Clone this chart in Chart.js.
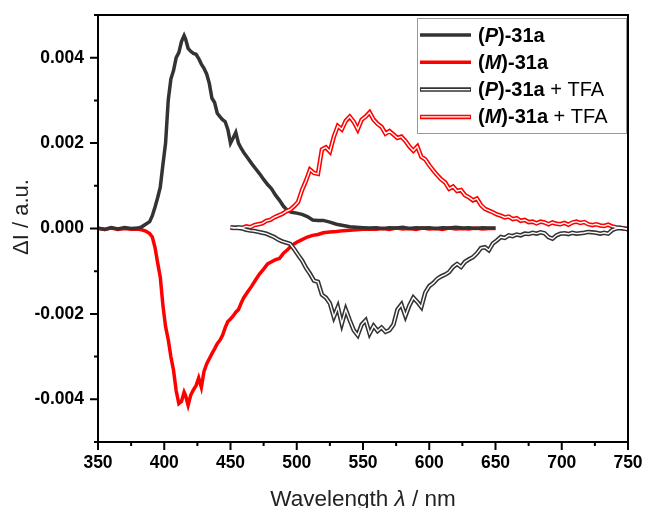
<!DOCTYPE html>
<html>
<head>
<meta charset="utf-8">
<script src="https://cdn.jsdelivr.net/npm/chart.js@4"></script>
<style>
  html, body { margin: 0; padding: 0; background: #fff; }
  #wrap { width: 645px; height: 508px; }
</style>
</head>
<body>
<div id="wrap"><canvas id="cd"></canvas></div>
<script>
// (P)-31a and (M)-31a, sampled on the same wavelengths
const wlPure = [350,355,360,365,370,375,380,383,386,389,391,393,395,397,399,401,403,405,407,409,411,413,415,416,418,420,422,424,426,428,430,432,434,436,438,440,442,444,446,448,450,452,454,456,458,460,463,466,469,472,475,478,481,484,487,490,493,496,500,504,508,512,516,520,525,530,535,540,545,550,555,560,565,570,575,580,585,590,595,600,605,610,615,620,625,630,635,640,645,650];
const pVals = [0.00001,-0.00002,0.00002,-0.00001,0.00002,0.00000,0.00001,0.00004,0.00010,0.00016,0.00030,0.00050,0.00072,0.00097,0.00150,0.00200,0.00300,0.00350,0.00370,0.00400,0.00412,0.00438,0.00452,0.00445,0.00422,0.00415,0.00410,0.00408,0.00398,0.00385,0.00375,0.00362,0.00340,0.00305,0.00295,0.00270,0.00262,0.00255,0.00250,0.00232,0.00200,0.00212,0.00225,0.00200,0.00188,0.00178,0.00165,0.00152,0.00140,0.00128,0.00115,0.00103,0.00093,0.00078,0.00066,0.00052,0.00042,0.00038,0.00036,0.00033,0.00028,0.00020,0.00019,0.00019,0.00015,0.00010,0.00007,0.00004,0.00003,0.00002,0.00001,0.00002,0.00000,0.00002,0.00001,0.00003,0.00000,0.00002,0.00001,0.00002,0.00000,0.00002,0.00001,0.00003,0.00001,0.00002,0.00000,0.00002,0.00001,0.00001];
const mVals = [0.00000,-0.00002,0.00001,-0.00002,0.00000,-0.00002,-0.00001,-0.00003,-0.00006,-0.00012,-0.00020,-0.00044,-0.00080,-0.00114,-0.00180,-0.00230,-0.00260,-0.00300,-0.00332,-0.00380,-0.00410,-0.00405,-0.00383,-0.00390,-0.00414,-0.00390,-0.00378,-0.00368,-0.00350,-0.00372,-0.00335,-0.00317,-0.00305,-0.00293,-0.00282,-0.00270,-0.00262,-0.00250,-0.00232,-0.00218,-0.00212,-0.00205,-0.00196,-0.00190,-0.00175,-0.00162,-0.00148,-0.00135,-0.00120,-0.00106,-0.00095,-0.00083,-0.00078,-0.00073,-0.00070,-0.00058,-0.00050,-0.00040,-0.00032,-0.00026,-0.00020,-0.00016,-0.00014,-0.00010,-0.00008,-0.00007,-0.00005,-0.00004,-0.00003,-0.00002,-0.00001,-0.00002,0.00000,-0.00002,0.00001,-0.00001,0.00000,-0.00002,0.00001,-0.00001,0.00000,-0.00002,0.00001,-0.00001,0.00000,-0.00001,0.00001,-0.00001,0.00000,0.00000];

// + TFA series, 450..750 nm every 3 nm
const wlTfa = [450,453,456,459,462,465,468,471,474,477,480,483,486,489,492,495,498,501,504,507,510,513,516,519,522,525,528,531,534,537,540,543,546,549,552,555,558,561,564,567,570,573,576,579,582,585,588,591,594,597,600,603,606,609,612,615,618,621,624,627,630,633,636,639,642,645,648,651,654,657,660,663,666,669,672,675,678,681,684,687,690,693,696,699,702,705,708,711,714,717,720,723,726,729,732,735,738,741,744,747,750];
const pTfaVals = [0.00003,0.00002,0.00001,0.00000,-0.00003,-0.00005,-0.00006,-0.00008,-0.00010,-0.00012,-0.00016,-0.00020,-0.00026,-0.00030,-0.00033,-0.00036,-0.00048,-0.00062,-0.00075,-0.00092,-0.00106,-0.00122,-0.00125,-0.00155,-0.00162,-0.00175,-0.00207,-0.00184,-0.00223,-0.00190,-0.00215,-0.00238,-0.00250,-0.00225,-0.00215,-0.00246,-0.00228,-0.00240,-0.00232,-0.00242,-0.00238,-0.00225,-0.00190,-0.00178,-0.00205,-0.00180,-0.00162,-0.00172,-0.00184,-0.00150,-0.00135,-0.00128,-0.00118,-0.00112,-0.00108,-0.00102,-0.00090,-0.00083,-0.00090,-0.00078,-0.00072,-0.00067,-0.00058,-0.00046,-0.00044,-0.00051,-0.00035,-0.00028,-0.00020,-0.00022,-0.00016,-0.00018,-0.00014,-0.00016,-0.00012,-0.00013,-0.00010,-0.00012,-0.00009,-0.00011,-0.00020,-0.00024,-0.00016,-0.00012,-0.00011,-0.00013,-0.00010,-0.00012,-0.00011,-0.00010,-0.00008,-0.00009,-0.00010,-0.00012,-0.00010,-0.00012,-0.00004,0.00000,0.00001,0.00000,-0.00001];
const mTfaVals = [0.00002,0.00001,0.00003,0.00002,0.00005,0.00003,0.00008,0.00010,0.00012,0.00018,0.00020,0.00026,0.00030,0.00034,0.00040,0.00044,0.00052,0.00062,0.00090,0.00112,0.00138,0.00130,0.00128,0.00185,0.00190,0.00180,0.00215,0.00240,0.00232,0.00252,0.00262,0.00250,0.00232,0.00255,0.00262,0.00272,0.00255,0.00245,0.00238,0.00222,0.00228,0.00220,0.00212,0.00215,0.00205,0.00192,0.00182,0.00192,0.00168,0.00162,0.00148,0.00136,0.00125,0.00115,0.00108,0.00093,0.00098,0.00088,0.00090,0.00078,0.00073,0.00066,0.00070,0.00055,0.00046,0.00042,0.00038,0.00033,0.00030,0.00026,0.00028,0.00022,0.00024,0.00018,0.00020,0.00015,0.00016,0.00012,0.00016,0.00014,0.00010,0.00014,0.00011,0.00010,0.00013,0.00009,0.00014,0.00016,0.00013,0.00015,0.00010,0.00008,0.00010,0.00007,0.00006,0.00009,0.00005,0.00003,0.00002,0.00000,-0.00002];

const legendRows = [
  { name: 'P', tfa: false, color: '#333333' },
  { name: 'M', tfa: false, color: '#ff0000' },
  { name: 'P', tfa: true, color: '#333333' },
  { name: 'M', tfa: true, color: '#ff0000' }
];

const FONT = '"Liberation Sans", Arial, sans-serif';

function pts(xs, ys) {
  return xs.map((x, i) => ({ x: x, y: ys[i] }));
}

function solid(data, color) {
  return { data: data, borderColor: color, borderWidth: 3.5, pointRadius: 0, tension: 0, fill: false, order: 2 };
}

// hollow line = thick coloured stroke with a thin white one on top
function hollow(data, color) {
  return [
    { data: data, borderColor: color, borderWidth: 4.5, pointRadius: 0, tension: 0, fill: false, order: 1 },
    { data: data, borderColor: '#ffffff', borderWidth: 1.4, pointRadius: 0, tension: 0, fill: false, order: 0 }
  ];
}

const framePlugin = {
  id: 'frame',
  afterDraw(chart) {
    const ctx = chart.ctx;
    const a = chart.chartArea;
    const xs = chart.scales.x, ys = chart.scales.y;
    ctx.save();
    ctx.strokeStyle = '#000';
    ctx.lineWidth = 2;
    ctx.strokeRect(a.left, a.top, a.right - a.left, a.bottom - a.top);

    // tick marks, outside, minor ones shorter
    ctx.beginPath();
    xs.ticks.forEach(t => {
      const px = xs.getPixelForValue(t.value);
      const len = t.value % 50 === 0 ? 8 : 4;
      ctx.moveTo(px, a.bottom);
      ctx.lineTo(px, a.bottom + len);
    });
    ys.ticks.forEach(t => {
      const py = ys.getPixelForValue(t.value);
      const len = Math.round(t.value * 1000) % 2 === 0 ? 8 : 4;
      ctx.moveTo(a.left, py);
      ctx.lineTo(a.left - len, py);
    });
    ctx.stroke();

    // axis titles
    ctx.fillStyle = '#222';
    ctx.textBaseline = 'alphabetic';
    const p1 = 'Wavelength ', p2 = '\u03bb', p3 = ' / nm';
    ctx.font = '22.5px ' + FONT;
    const w1 = ctx.measureText(p1).width, w3 = ctx.measureText(p3).width;
    ctx.font = 'italic 22.5px ' + FONT;
    const w2 = ctx.measureText(p2).width;
    let x0 = (a.left + a.right) / 2 - (w1 + w2 + w3) / 2;
    const by = 506;
    ctx.font = '22.5px ' + FONT;
    ctx.fillText(p1, x0, by);
    ctx.font = 'italic 22.5px ' + FONT;
    ctx.fillText(p2, x0 + w1, by);
    ctx.font = '22.5px ' + FONT;
    ctx.fillText(p3, x0 + w1 + w2, by);

    ctx.save();
    ctx.translate(28, 217);
    ctx.rotate(-Math.PI / 2);
    ctx.textAlign = 'center';
    ctx.font = '22px ' + FONT;
    ctx.fillText('\u0394I / a.u.', 0, 0);
    ctx.restore();

    // legend box
    const lx = 417, ly = 18, lw = 209, lh = 115;
    ctx.fillStyle = '#fff';
    ctx.fillRect(lx, ly, lw, lh);
    ctx.strokeStyle = '#999';
    ctx.lineWidth = 1;
    ctx.strokeRect(lx + 0.5, ly + 0.5, lw, lh);
    legendRows.forEach((r, i) => {
      const y = 35 + i * 27.3;
      ctx.lineCap = 'butt';
      ctx.strokeStyle = r.color;
      ctx.lineWidth = r.tfa ? 4.5 : 3.5;
      ctx.beginPath();
      ctx.moveTo(420, y);
      ctx.lineTo(471, y);
      ctx.stroke();
      if (r.tfa) {
        ctx.strokeStyle = '#fff';
        ctx.lineWidth = 1.4;
        ctx.beginPath();
        ctx.moveTo(421, y);
        ctx.lineTo(470, y);
        ctx.stroke();
      }
      const segs = [['(', 'bold'], [r.name, 'italic bold'], [')-31a', 'bold']];
      if (r.tfa) segs.push([' + TFA', 'normal']);
      let tx = 478;
      ctx.fillStyle = '#000';
      ctx.textBaseline = 'middle';
      segs.forEach(s => {
        ctx.font = (s[1] === 'normal' ? '' : s[1] + ' ') + '20px ' + FONT;
        ctx.fillText(s[0], tx, y + 1);
        tx += ctx.measureText(s[0]).width;
      });
    });
    ctx.restore();
  }
};

const datasets = [
  solid(pts(wlPure, pVals), '#333333'),
  solid(pts(wlPure, mVals), '#ff0000')
].concat(hollow(pts(wlTfa, pTfaVals), '#333333'), hollow(pts(wlTfa, mTfaVals), '#ff0000'));

new Chart(document.getElementById('cd'), {
  type: 'line',
  data: { datasets: datasets },
  options: {
    responsive: true,
    maintainAspectRatio: false,
    animation: false,
    layout: { padding: { left: 0, right: 17, top: 15, bottom: 0 } },
    plugins: { legend: { display: false }, tooltip: { enabled: false } },
    scales: {
      x: {
        type: 'linear',
        min: 350, max: 750,
        border: { display: false },
        grid: { display: false, drawTicks: false },
        ticks: {
          stepSize: 25,
          autoSkip: false,
          maxRotation: 0,
          padding: 11,
          color: '#000',
          font: { family: FONT, size: 17.5, weight: 'bold' },
          callback: v => (v % 50 === 0 ? String(v) : '')
        },
        afterFit: s => { s.height = 66; s.paddingLeft = 0; s.paddingRight = 0; }
      },
      y: {
        min: -0.005, max: 0.005,
        border: { display: false },
        grid: { display: false, drawTicks: false },
        ticks: {
          stepSize: 0.001,
          autoSkip: false,
          padding: 14,
          color: '#000',
          font: { family: FONT, size: 17.5, weight: 'bold' },
          callback: v => (Math.round(v * 1000) % 2 === 0 ? v.toFixed(3) : '')
        },
        afterFit: s => { s.width = 98; s.paddingTop = 0; s.paddingBottom = 0; }
      }
    }
  },
  plugins: [framePlugin]
});
</script>
</body>
</html>
